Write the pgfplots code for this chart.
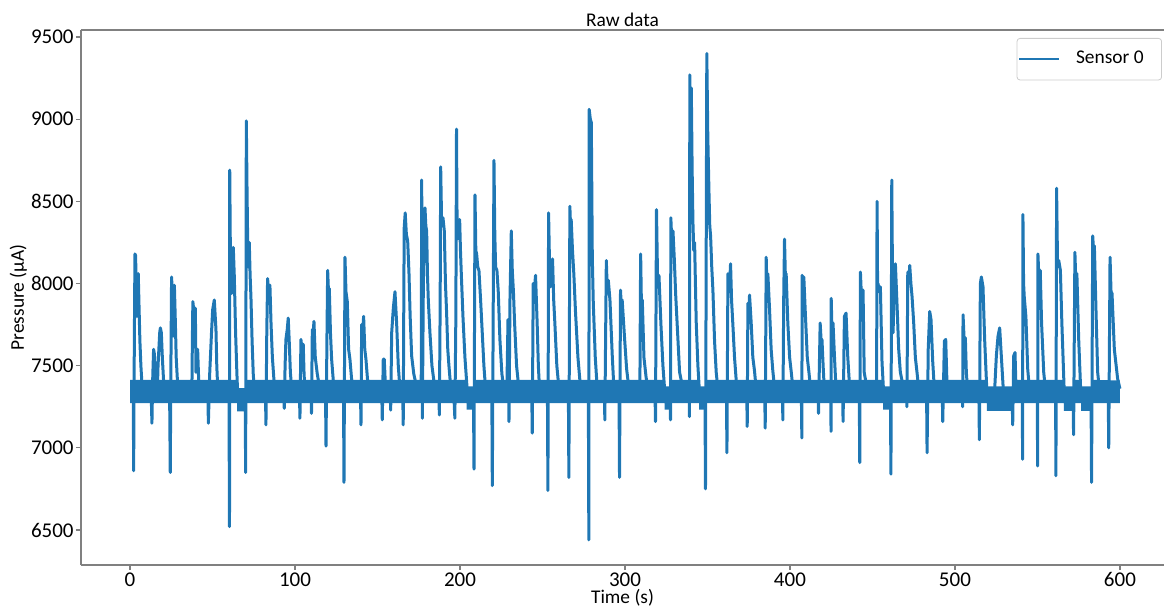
\documentclass[border=0pt]{standalone}
\usepackage{fontspec}
\setmainfont{Carlito}
\usepackage{pgfplots}
\pgfplotsset{compat=1.18}
\definecolor{c0}{HTML}{1F77B4}
\definecolor{spine}{HTML}{808080}
\begin{document}
\begin{tikzpicture}
\begin{axis}[
  scale only axis, width=541.5pt, height=267.5pt,
  xmin=-29.7, xmax=626.7, ymin=6287, ymax=9543,
  axis x line=box, axis y line=left,
  axis line style={-, draw=spine, line width=0.6pt},
  xtick={0,100,...,600}, ytick={6500,7000,...,9500},
  xtick pos=bottom, ytick pos=left,
  tick align=outside, major tick length=2.5pt,
  tick style={draw=spine, line width=0.6pt},
  ticklabel style={font=\fontsize{10.5}{12}\selectfont, text=black, inner sep=1pt},
  /pgf/number format/assume math mode=true,
  /pgf/number format/1000 sep={},
  title={Raw data},
  every axis title/.style={at={(0.5,1)}, anchor=base, yshift=1.5pt, font=\fontsize{9.7}{11}\selectfont},
  xlabel={Time (s)},
  every axis x label/.style={at={(axis description cs:0.5,0)}, anchor=base, yshift=-19pt, font=\fontsize{9.7}{11}\selectfont},
  ylabel={Pressure (µA)},
  every axis y label/.style={at={(axis description cs:0,0.5)}, xshift=-28.5pt, rotate=90, anchor=base, font=\fontsize{9.7}{11}\selectfont},
  legend style={at={(1,1)}, anchor=north east, xshift=-1pt, yshift=-4pt,
    draw=black!20, rounded corners=1.5pt, fill=white,
    font=\fontsize{9.7}{11}\selectfont, inner xsep=0.5pt, inner ysep=4.5pt,
    nodes={inner sep=2pt}, /tikz/column sep=6pt},
  legend cell align=left,
  legend image code/.code={\draw[#1, line width=1pt] (0pt,0pt) -- (20pt,0pt);},
]
% baseline noise band (upper edge forward, lower edge backward)
\addplot[draw=none, fill=c0, forget plot] table {
x y
0 7414
65 7414
65 7364
70 7364
70 7414
204 7414
204 7374
208 7374
208 7414
324 7414
324 7374
327.5 7374
327.5 7414
345 7414
345 7374
348.6 7374
348.6 7414
456.5 7414
456.5 7374
461 7374
461 7414
519.4 7414
519.4 7374
535 7374
535 7414
566 7414
566 7374
571.8 7374
571.8 7414
576.4 7414
576.4 7374
582.6 7374
582.6 7414
600 7410
600 7272
582.6 7272
582.6 7225
576.4 7225
576.4 7272
571.8 7272
571.8 7225
566 7225
566 7272
535 7272
535 7225
519.4 7225
519.4 7272
461 7272
461 7232
456.5 7232
456.5 7272
348.6 7272
348.6 7232
345 7232
345 7272
327.5 7272
327.5 7232
324 7232
324 7272
208 7272
208 7232
204 7232
204 7272
70 7272
70 7222
65 7222
65 7272
0 7272
};
\addplot[c0, line width=1.5pt, line join=round] table {
x y
0 7340
2.0 7340
2.2 6860
2.6 7600
3.0 8180
3.4 8170
3.8 7950
4.2 7800
4.6 8000
5.0 8060
5.5 7850
6.0 7650
6.6 7500
7.3 7380
12.8 7340
13.3 7150
13.7 7400
14.3 7600
14.8 7570
15.5 7420
16.4 7290
17.0 7500
18.0 7700
18.4 7730
19.0 7700
19.6 7550
20.5 7380
24.0 7340
24.4 6850
24.8 7500
25.2 8040
25.8 7900
26.2 7680
26.9 7990
27.4 7800
28.0 7550
28.9 7380
37.5 7340
37.8 7650
38.1 7890
38.8 7820
39.6 7850
40.0 7460
41.0 7600
41.6 7420
42.2 7360
47.2 7340
47.5 7150
48.3 7450
49.4 7700
50.1 7840
51.1 7900
52.1 7720
52.6 7500
53.1 7380
60.0 7340
60.3 6520
60.45 8690
60.9 8100
61.6 7940
62.1 8150
62.6 8220
63.2 8050
64.0 7700
64.8 7450
65.3 7320
69.8 7300
70.1 6850
70.5 8990
70.9 8600
71.3 8270
71.8 8100
72.3 8250
72.8 8050
73.3 7920
74.0 7650
74.7 7450
75.3 7360
82.1 7340
82.4 7140
82.9 7700
83.4 8030
84.0 7950
84.8 7990
85.5 7750
86.3 7550
87.2 7420
87.9 7360
93.2 7340
93.5 7240
94.0 7500
94.5 7660
95.3 7720
95.9 7790
96.5 7650
97.2 7460
98.0 7360
102.7 7340
103.0 7180
103.6 7660
104.2 7600
105.0 7630
105.5 7450
106.0 7360
109.7 7340
110.0 7210
110.5 7720
111.0 7700
111.5 7770
112.3 7550
113.5 7450
115.0 7360
118.5 7340
118.8 7010
119.3 7600
119.8 8080
120.3 7950
120.8 7970
121.5 7700
122.2 7540
123.6 7360
129.4 7340
129.7 6790
130.3 8160
130.9 7950
131.7 7890
132.5 7600
133.3 7540
134.3 7420
135.3 7360
139.7 7340
140.0 7140
140.4 7750
141.0 7700
141.6 7800
142.3 7600
143.0 7540
144.4 7360
152.6 7340
152.9 7170
153.5 7540
154.1 7540
154.9 7360
157.7 7340
158.0 7230
158.6 7700
159.6 7850
160.6 7950
161.6 7760
162.6 7500
163.6 7360
165.3 7340
165.6 7140
166.0 8000
166.2 8340
166.8 8430
167.5 8300
168.3 8260
169.1 8060
169.8 7800
170.7 7560
172.0 7450
173.5 7380
174.7 7340
176.5 7340
176.8 8630
177.2 7180
177.8 8000
178.8 8460
179.3 8350
179.8 8320
180.3 8050
180.8 7900
181.8 7700
183.0 7500
184.8 7360
187.2 7340
187.5 7200
188.0 7900
188.3 8710
188.9 8350
189.7 8400
190.5 8320
191.2 8000
191.9 7820
192.6 7600
193.3 7500
194.3 7380
196.2 7340
196.9 7180
197.5 7800
197.9 8940
198.3 8270
199.0 8300
199.8 8390
200.3 8200
200.8 8060
201.8 7800
203.0 7550
204.4 7350
208.2 7300
208.5 6870
209.1 8540
209.6 8200
210.1 8180
210.8 8100
211.5 8080
212.5 7900
213.5 7700
214.5 7500
215.5 7360
219.3 7340
219.6 6770
220.6 8750
221.1 8300
221.6 8100
222.4 8080
223.2 7950
224.2 7660
225.4 7450
226.6 7360
228.5 7400
229.1 7780
229.7 7160
230.3 7900
231.1 8320
231.7 8080
232.4 7950
233.1 7760
234.3 7500
235.7 7360
243.5 7340
243.8 7090
244.4 8000
245.0 7950
245.8 8050
246.8 7750
247.5 7500
248.2 7360
253.0 7340
253.3 6740
253.7 8430
254.3 8100
254.9 7980
255.5 8100
256.1 8150
256.8 7900
257.5 7760
258.7 7500
260.0 7360
265.7 7340
266.0 6820
266.6 8470
267.0 8350
267.4 8390
268.2 8200
269.0 8060
270.0 7830
271.5 7550
273.1 7360
277.8 7340
278.1 6440
278.3 9060
279.0 9000
279.6 8980
280.2 8160
280.8 7880
282.0 7550
283.2 7360
287.5 7340
287.8 7170
288.7 8140
289.3 7950
289.9 8020
290.9 7900
292.3 7560
293.3 7360
296.4 7340
296.7 6820
297.3 7960
297.8 7850
298.3 7900
299.8 7660
301.0 7480
302.4 7360
309.0 7300
309.5 8180
310.0 7850
310.5 7900
311.5 7550
312.8 7430
313.9 7360
318.2 7340
318.5 7160
319.1 8450
319.8 8000
320.6 8050
321.8 7750
323.0 7500
324.0 7360
327.4 7340
327.6 7170
327.8 8400
328.4 8250
329.1 8320
329.9 8150
330.7 7940
331.9 7700
333.1 7460
335.1 7360
338.9 7340
339.1 7190
339.3 9270
339.7 9000
340.2 9190
340.7 8700
341.2 8370
341.7 8200
342.2 8250
342.7 8000
343.2 7760
344.2 7500
345.2 7330
348.5 7300
348.8 6750
349.6 9400
350.2 8900
350.9 8560
351.4 8350
351.9 8290
352.6 8100
353.3 7960
354.3 7650
355.3 7460
356.3 7360
361.5 7340
361.8 6970
362.4 8060
363.2 7950
364.0 8120
364.6 7900
365.4 7750
366.4 7550
367.8 7360
373.8 7340
374.1 7130
374.5 7880
375.0 7800
375.5 7930
376.5 7760
377.5 7550
378.5 7470
379.5 7360
384.7 7340
385.0 7120
385.6 8160
386.1 7950
386.6 8060
387.6 7850
388.6 7600
389.6 7470
390.7 7360
395.4 7340
395.7 7170
396.2 7900
396.7 8270
397.2 8050
397.7 8060
398.7 7760
399.8 7550
400.8 7460
401.8 7360
406.9 7340
407.2 7060
407.4 8050
407.9 7900
408.4 8040
409.4 7800
410.5 7550
411.5 7460
412.5 7360
417.0 7340
417.3 7210
418.3 7760
418.9 7650
419.4 7660
420.1 7500
420.8 7360
424.7 7340
424.9 7100
425.0 7910
425.5 7700
426.1 7760
427.0 7550
427.9 7360
431.9 7340
432.2 7160
433.0 7800
434.0 7820
435.0 7560
436.2 7360
442.0 7340
442.3 6910
442.7 8070
443.4 7900
444.3 7960
445.0 7460
446.7 7360
452.5 7340
452.8 8500
453.1 8000
453.4 8000
454.1 7950
454.8 7980
455.8 7520
456.8 7330
460.9 7300
461.2 6840
461.7 8630
462.1 8100
462.5 7700
463.2 8000
463.9 8120
464.9 7870
465.9 7600
466.9 7460
468.9 7360
470.6 7340
470.9 7250
471.4 8070
472.0 8000
472.6 8110
473.3 8000
474.0 7920
475.0 7760
476.0 7550
477.0 7460
478.0 7360
482.8 7340
483.1 6970
483.8 7600
484.7 7830
485.5 7780
486.5 7530
487.5 7360
492.3 7340
492.6 7160
493.6 7650
494.4 7660
495.2 7380
504.5 7340
504.7 7250
504.9 7810
505.6 7650
506.3 7670
506.9 7460
507.6 7360
514.5 7340
514.8 7050
515.4 8000
516.0 8040
517.0 7980
518.0 7660
519.4 7330
523.8 7300
525.1 7560
526.1 7680
527.1 7730
528.1 7560
529.5 7320
534.7 7300
535.0 7140
535.6 7560
536.4 7580
537.0 7360
540.8 7340
541.0 6930
541.2 8420
541.6 8000
542.0 7920
543.0 7800
544.1 7480
545.1 7360
549.9 7340
550.1 6890
550.3 8180
551.0 8000
551.7 8080
552.5 7760
553.8 7460
554.8 7360
561.0 7340
561.2 6830
561.6 8580
562.2 8100
562.9 8140
563.9 8080
564.8 7760
566.3 7320
571.6 7300
571.9 7080
572.7 8190
573.3 8000
573.9 8060
575.0 7660
576.4 7300
582.5 7300
582.8 6790
583.5 8290
584.0 8200
584.5 8230
585.5 7830
586.5 7460
587.5 7360
592.9 7340
593.2 7000
594.0 8160
594.6 7950
595.2 7940
596.6 7600
598.6 7420
600.0 7360
};
\addlegendentry{Sensor 0\rule{6.5pt}{0pt}}
\end{axis}
\pgfresetboundingbox
\path (current axis.south west) ++(-40.5pt,-20.5pt) rectangle ++(582pt,303pt);
\end{tikzpicture}
\end{document}
